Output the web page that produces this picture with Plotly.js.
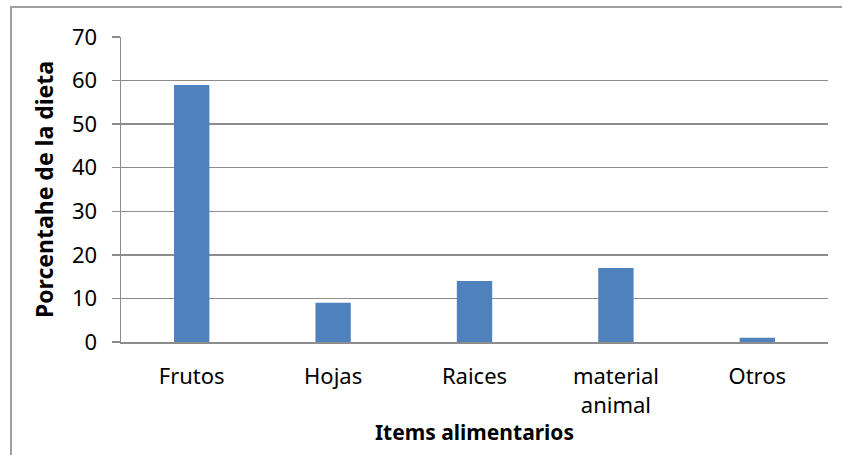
<!DOCTYPE html>
<html>
<head>
<meta charset="utf-8">
<script src="https://cdn.plot.ly/plotly-3.0.1.min.js"></script>
<style>
html,body{margin:0;padding:0;background:#fff;}
#chart{width:842px;height:455px;}
</style>
</head>
<body>
<div id="chart"></div>
<script>
const categories = ["Frutos", "Hojas", "Raices", "material<br>animal", "Otros"];
const values = [59, 9, 14, 17, 1];
const yTicks = [0, 10, 20, 30, 40, 50, 60, 70];

const font = "Noto Sans, sans-serif";
const trace = {
  type: "bar",
  x: categories,
  y: values,
  marker: {color: "#4f81bd"},
  hoverinfo: "skip"
};
const layout = {
  width: 842, height: 455,
  margin: {l: 121, r: 14, t: 37, b: 113},
  paper_bgcolor: "#fff", plot_bgcolor: "#fff",
  bargap: 0.75,
  showlegend: false,
  font: {family: font, color: "#000", size: 22},
  xaxis: {
    showgrid: false, zeroline: false,
    showline: true, linecolor: "#8c8c8c", linewidth: 1.5,
    ticks: "", ticklabelstandoff: 14,
    tickfont: {size: 22},
    title: {text: "Items alimentarios", font: {size: 21, weight: "bold"}, standoff: 6},
    fixedrange: true
  },
  yaxis: {
    range: [0, 70], tickvals: yTicks, ticktext: yTicks.map(String),
    showgrid: true, gridcolor: "#8c8c8c", gridwidth: 1.5,
    zeroline: false,
    showline: true, linecolor: "#8c8c8c", linewidth: 1.5,
    ticks: "outside", ticklen: 8, tickcolor: "#8c8c8c", tickwidth: 1.5,
    tickfont: {size: 22}, ticklabelstandoff: 10,
    title: {text: "Porcentahe de la dieta", font: {size: 23, weight: "bold"}, standoff: 12},
    fixedrange: true
  },
  shapes: [{
    type: "rect", xref: "paper", yref: "paper",
    x0: (11 - 121) / 707, x1: (846 - 121) / 707,
    y0: (342 - 460) / 305, y1: (342 - 7) / 305,
    line: {color: "#a0a0a0", width: 2}, fillcolor: "rgba(0,0,0,0)", layer: "below"
  }]
};
Plotly.newPlot("chart", [trace], layout, {displayModeBar: false, staticPlot: true});
</script>
</body>
</html>
